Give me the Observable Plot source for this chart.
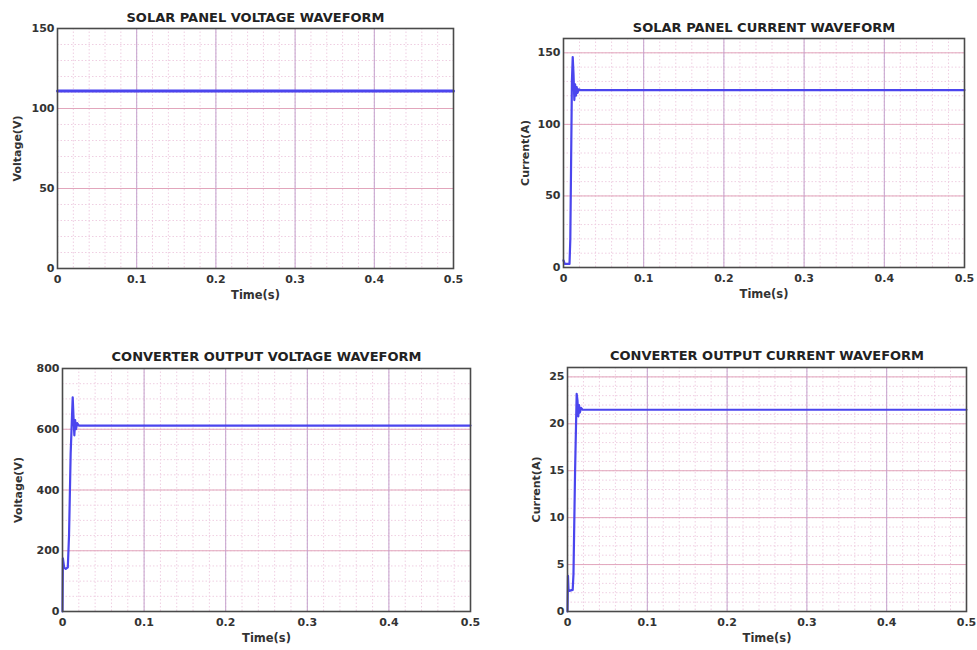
<!DOCTYPE html>
<html>
<head>
<meta charset="utf-8">
<script src="https://cdn.jsdelivr.net/npm/d3@7"></script>
<script src="https://cdn.jsdelivr.net/npm/@observablehq/plot@0.6"></script>
<style>
  html, body { margin: 0; padding: 0; background: #fff; }
  #wrap { position: relative; width: 977px; height: 650px; overflow: hidden; }
  .panel { position: absolute; }
  .panel svg { display: block; }
</style>
</head>
<body>
<div id="wrap"></div>
<script>
// ---------- data ----------
const timeTicks = [0, 0.1, 0.2, 0.3, 0.4, 0.5];

// Solar panel voltage
const pvVoltTime = [0, 0.5];
const pvVoltValue = [111, 111];
const pvVoltTicks = [0, 50, 100, 150];

// Solar panel current
const pvCurrTime = [0, 0.0015, 0.0075, 0.0085, 0.0105, 0.0115, 0.0125, 0.0135, 0.0145, 0.0155, 0.0165, 0.0175, 0.019, 0.021, 0.5];
const pvCurrValue = [5, 2.5, 2.5, 20, 130, 147, 135, 117, 128, 120, 126, 122, 124.5, 124, 124];
const pvCurrTicks = [0, 50, 100, 150];

// Converter output voltage
const cvVoltTime = [0, 0.0005, 0.002, 0.004, 0.0065, 0.008, 0.010, 0.0125, 0.0135, 0.0145, 0.0155, 0.0165, 0.018, 0.020, 0.5];
const cvVoltValue = [0, 175, 145, 140, 145, 250, 520, 705, 640, 580, 630, 600, 620, 612, 612];
const cvVoltTicks = [0, 200, 400, 600, 800];

// Converter output current
const cvCurrTime = [0, 0.0006, 0.0012, 0.002, 0.0065, 0.0075, 0.0095, 0.0115, 0.0125, 0.0135, 0.0145, 0.0155, 0.017, 0.019, 0.5];
const cvCurrValue = [0, 3.8, 2.4, 2.2, 2.3, 4, 15, 23.2, 22.5, 20.8, 22, 21.2, 21.7, 21.5, 21.5];
const cvCurrTicks = [0, 5, 10, 15, 20, 25];

// ---------- styles ----------
const lineColor = "#4b45ee";
const majorX = "#c4a0cc";
const majorY = "#e2a6bc";
const minorCol = "#efcfe2";
const font = "'DejaVu Sans', 'Liberation Sans', sans-serif";

function panel(cfg) {
  const data = cfg.t.map((t, i) => ({t, v: cfg.v[i]}));
  const minorX = d3.range(0, 0.5001, 0.02);
  const minorY = d3.range(cfg.yDomain[0], cfg.yDomain[1] + 1e-9, cfg.yMinor);
  const chart = Plot.plot({
    width: cfg.width,
    height: cfg.height,
    marginLeft: cfg.ml,
    marginRight: cfg.mr,
    marginTop: cfg.mt,
    marginBottom: cfg.mb,
    style: {fontFamily: font, background: "transparent", overflow: "visible"},
    x: {domain: [0, 0.5], label: null},
    y: {domain: cfg.yDomain, label: null},
    marks: [
      Plot.ruleX(minorX, {stroke: minorCol, strokeDasharray: "1.5,2", strokeWidth: 1}),
      Plot.ruleY(minorY, {stroke: minorCol, strokeDasharray: "1.5,2", strokeWidth: 1}),
      Plot.ruleY(cfg.yTicks, {stroke: majorY, strokeWidth: 1}),
      Plot.ruleX(timeTicks, {stroke: majorX, strokeWidth: 1}),
      Plot.line(data, {x: "t", y: "v", stroke: lineColor, strokeWidth: cfg.sw || 2.2, strokeLinejoin: "round"}),
      Plot.frame({stroke: "#4a4a4a", strokeWidth: 1.6}),
      Plot.axisX({ticks: timeTicks, tickFormat: d => String(d), tickSize: 0, tickPadding: 7, label: null,
        fontSize: 11, fontWeight: "bold", fill: "#333"}),
      Plot.axisY({ticks: cfg.yTicks, tickFormat: d => String(d), tickSize: 0, tickPadding: 3, label: null,
        fontSize: 11, fontWeight: "bold", fill: "#333"}),
      Plot.text([cfg.title], {frameAnchor: "top", dy: cfg.titleDy, fontSize: 13, fontWeight: "bold", fill: "#222", lineAnchor: "middle"}),
      Plot.text(["Time(s)"], {frameAnchor: "bottom", dy: 27, fontSize: 11.5, fontWeight: "bold", fill: "#333", lineAnchor: "middle"}),
      Plot.text([cfg.ylabel], {frameAnchor: "left", dx: -cfg.ylOff, rotate: -90, fontSize: 11, fontWeight: "bold", fill: "#333", textAnchor: "middle", lineAnchor: "middle"})
    ]
  });
  const div = document.createElement("div");
  div.className = "panel";
  div.style.left = cfg.left + "px";
  div.style.top = cfg.top + "px";
  div.appendChild(chart);
  document.getElementById("wrap").appendChild(div);
}

panel({left: 0, top: 0, width: 480, height: 310, ml: 57, mr: 27, mt: 28, mb: 42,
  t: pvVoltTime, v: pvVoltValue, yDomain: [0, 150], yTicks: pvVoltTicks, yMinor: 10, sw: 3,
  title: "SOLAR PANEL VOLTAGE WAVEFORM", titleDy: -11, ylabel: "Voltage(V)", ylOff: 40});

panel({left: 490, top: 0, width: 487, height: 310, ml: 73, mr: 13, mt: 38, mb: 43,
  t: pvCurrTime, v: pvCurrValue, yDomain: [0, 160], yTicks: pvCurrTicks, yMinor: 10,
  title: "SOLAR PANEL CURRENT WAVEFORM", titleDy: -11, ylabel: "Current(A)", ylOff: 38});

panel({left: 0, top: 330, width: 490, height: 320, ml: 62, mr: 20, mt: 38, mb: 39,
  t: cvVoltTime, v: cvVoltValue, yDomain: [0, 800], yTicks: cvVoltTicks, yMinor: 50,
  title: "CONVERTER OUTPUT VOLTAGE WAVEFORM", titleDy: -12, ylabel: "Voltage(V)", ylOff: 44});

panel({left: 490, top: 330, width: 487, height: 320, ml: 77, mr: 11, mt: 37, mb: 39,
  t: cvCurrTime, v: cvCurrValue, yDomain: [0, 26], yTicks: cvCurrTicks, yMinor: 1,
  title: "CONVERTER OUTPUT CURRENT WAVEFORM", titleDy: -12, ylabel: "Current(A)", ylOff: 31});
</script>
</body>
</html>
